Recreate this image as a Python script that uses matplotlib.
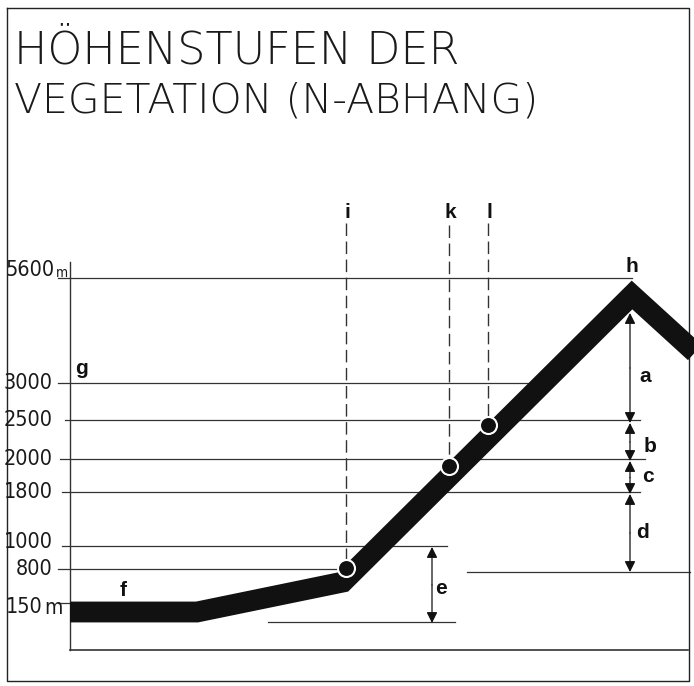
import matplotlib
matplotlib.use("Agg")
import matplotlib.pyplot as plt

# schematic: drawing units are pixels of the original sheet (y downwards)
levels = ["5600", "3000", "2500", "2000", "1800", "1000", "800", "150"]
level_y = [278, 383, 420, 459, 492, 546, 569, 603]
level_x0 = [58, 58, 65, 60, 62, 62, 58, 58]
level_x1 = [632, 545, 640, 645, 640, 447, 345, 70]

# terrain profile (centre of the black band)
profile_x = [70, 197, 343, 632, 700]
profile_y = [612, 612, 582, 295, 357]

# sample points on the slope
pts_name = ["i", "k", "l"]
pts_x = [346, 449, 488]
pts_y = [568, 466, 425]
dash_top = [223, 225, 223]

# vertical zones (arrows)
zone_name = ["a", "b", "c", "d"]
zone_top = [313, 423, 461, 494]
zone_bot = [423, 461, 494, 572]

thin = dict(family="DejaVu Sans", fontweight=200, color="#1a1a1a")
tick = dict(family="DejaVu Sans", fontstretch="condensed", color="#1a1a1a")

fig = plt.figure(figsize=(6.94, 6.86), dpi=100)
ax = fig.add_axes([0, 0, 1, 1])
ax.set_xlim(0, 694)
ax.set_ylim(686, 0)
ax.axis("off")

# frame
ax.plot([7, 689, 689, 7, 7], [8, 8, 681, 681, 8], color="#222222", lw=1.0)

ax.text(14, 63, "HÖHENSTUFEN DER", fontsize=32, va="baseline", **thin)
ax.text(14, 112, "VEGETATION (N-ABHANG)", fontsize=29.5, va="baseline", **thin)

# axis
ax.plot([70, 70], [262, 650], color="#333333", lw=1.0)
ax.plot([70, 688], [650, 650], color="#333333", lw=1.2)

for lab, y, x0, x1 in zip(levels, level_y, level_x0, level_x1):
    ax.plot([x0, x1], [y, y], color="#333333", lw=0.9, zorder=1)
    if lab == "5600":
        ax.text(55, 276, lab, fontsize=15.5, ha="right", va="baseline", **tick)
    elif lab == "150":
        ax.text(43, 607, lab, fontsize=15.5, ha="right", va="center", **tick)
    elif lab == "1000":
        ax.text(53, y - 4, lab, fontsize=15.5, ha="right", va="center", **tick)
    else:
        ax.text(53, y, lab, fontsize=15.5, ha="right", va="center", **tick)
ax.text(56, 277, "m", fontsize=10, ha="left", va="baseline", **tick)
ax.text(44, 614, "m", fontsize=15, ha="left", va="baseline", **tick)

# extra reference lines
ax.plot([467, 690], [572, 572], color="#333333", lw=0.9, zorder=1)
ax.plot([268, 455], [622, 622], color="#333333", lw=0.9, zorder=1)

# terrain band
ax.plot(profile_x, profile_y, color="#111111", lw=15, solid_joinstyle="miter",
        solid_capstyle="butt", zorder=3)

# dashed verticals and circles
for n, x, y, top in zip(pts_name, pts_x, pts_y, dash_top):
    ax.plot([x, x], [top, y - 8], color="#333333", lw=1.0, dashes=(9, 4), zorder=2)
    ax.scatter([x], [y], s=150, color="#111111", edgecolors="white", linewidths=1.5, zorder=4)
    ax.text(x + 1, 218, n, fontsize=15, fontweight="bold", family="Liberation Sans",
            ha="center", va="baseline", color="#111111")

arrow = dict(arrowstyle="-|>", color="#111111", lw=0.9, mutation_scale=16, shrinkA=0, shrinkB=0)
for n, t, b in zip(zone_name, zone_top, zone_bot):
    mid = (t + b) / 2
    ax.annotate("", xy=(630, t), xytext=(630, mid), arrowprops=arrow, zorder=5)
    ax.annotate("", xy=(630, b), xytext=(630, mid), arrowprops=arrow, zorder=5)
ax.annotate("", xy=(432, 547), xytext=(432, 585), arrowprops=arrow)
ax.annotate("", xy=(432, 623), xytext=(432, 585), arrowprops=arrow)

lab_style = dict(fontsize=15, fontweight="bold", family="Liberation Sans", color="#111111",
                 ha="center", va="center")
ax.text(645, 376, "a", **lab_style)
ax.text(650, 446, "b", **lab_style)
ax.text(648, 476, "c", **lab_style)
ax.text(643, 532, "d", **lab_style)
ax.text(441, 589, "e", **lab_style)
ax.text(632, 266, "h", **lab_style)
ax.text(82, 369, "g", **lab_style)
ax.text(123, 591, "f", **lab_style)

fig.savefig("out.png", dpi=100, facecolor="white")
